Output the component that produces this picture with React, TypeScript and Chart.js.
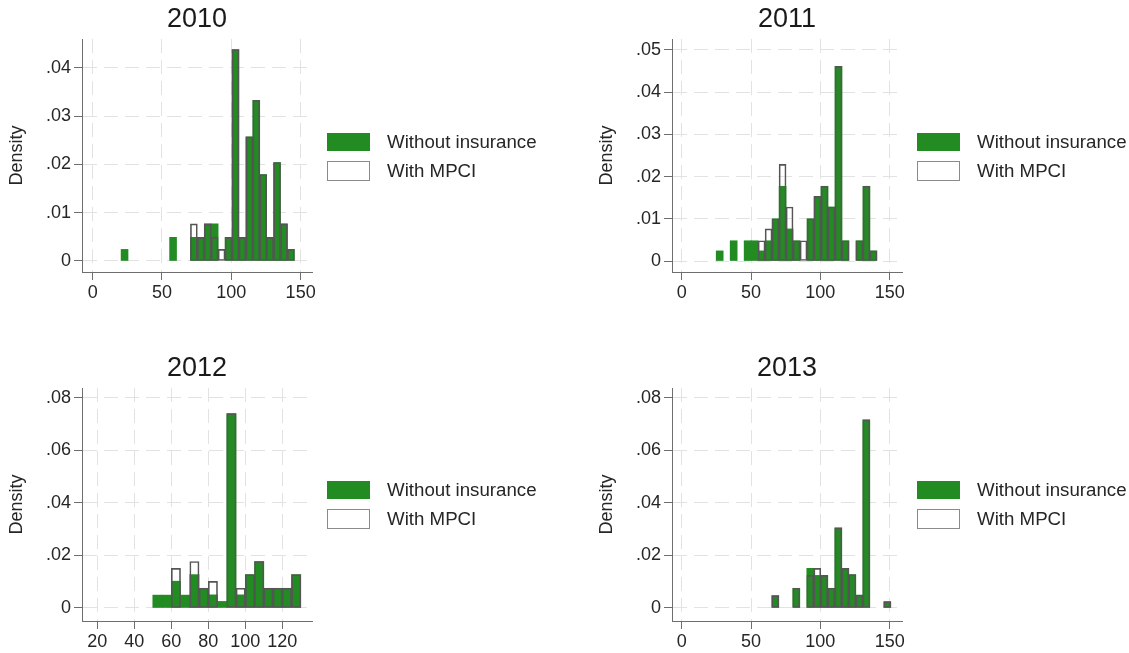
import React, { useEffect, useRef } from "react";
import { Chart, registerables } from "chart.js";

Chart.register(...registerables);

// ---------------- data ----------------
const seriesLabels = ["Without insurance", "With MPCI"];
const yAxisTitle = "Density";

// 2010 (bin width 5)
const bins2010 = [23, 28, 33, 38, 43, 48, 53, 58, 63, 68, 73, 78, 83, 88, 93, 98, 103, 108, 113, 118, 123, 128, 133, 138, 143];
const without2010 = [0.0024, 0, 0, 0, 0, 0, 0, 0.0049, 0, 0, 0.0049, 0.0049, 0.0077, 0.0077, 0, 0.0049, 0.0438, 0.0049, 0.0257, 0.0333, 0.0179, 0.0049, 0.0204, 0.0077, 0.0024];
const mpci2010 = [0, 0, 0, 0, 0, 0, 0, 0, 0, 0, 0.0077, 0.0049, 0.0077, 0.0049, 0.0024, 0.0049, 0.0438, 0.0049, 0.0257, 0.0333, 0.0179, 0.0049, 0.0204, 0.0077, 0.0024];

// 2011
const bins2011 = [27.4, 32.44, 37.48, 42.52, 47.56, 52.6, 57.64, 62.68, 67.72, 72.76, 77.8, 82.84, 87.88, 92.92, 97.96, 103.0, 108.04, 113.08, 118.12, 123.16, 128.2, 133.24, 138.28];
const without2011 = [0.0024, 0, 0.0048, 0, 0.0048, 0.0048, 0.0024, 0.0048, 0.01, 0.0177, 0.0076, 0.0048, 0, 0.01, 0.0153, 0.0177, 0.0128, 0.0461, 0.0048, 0, 0.0048, 0.0177, 0.0024];
const mpci2011 = [0, 0, 0, 0, 0, 0, 0.0048, 0.0076, 0.01, 0.0229, 0.0128, 0.0048, 0.0048, 0.01, 0.0153, 0.0177, 0.0128, 0.0461, 0.0048, 0, 0.0048, 0.0177, 0.0024];

// 2012
const bins2012 = [52.5, 57.5, 62.5, 67.5, 72.5, 77.5, 82.5, 87.5, 92.5, 97.5, 102.5, 107.5, 112.5, 117.5, 122.5, 127.5];
const without2012 = [0.0049, 0.0049, 0.0102, 0.0049, 0.0127, 0.0075, 0.005, 0.0025, 0.074, 0.005, 0.0127, 0.0177, 0.0075, 0.0075, 0.0075, 0.0127];
const mpci2012 = [0, 0, 0.0151, 0, 0.0177, 0.0075, 0.0101, 0, 0.074, 0.0075, 0.0127, 0.0177, 0.0075, 0.0075, 0.0075, 0.0127];

// 2013
const bins2013 = [67.5, 72.55, 77.6, 82.65, 87.7, 92.75, 97.8, 102.85, 107.9, 112.95, 118.0, 123.05, 128.1, 133.15, 138.2, 143.25, 148.3];
const without2013 = [0.0047, 0, 0, 0.0075, 0, 0.0151, 0.0124, 0.0124, 0.0075, 0.0305, 0.0151, 0.0127, 0.0049, 0.0716, 0, 0, 0.0024];
const mpci2013 = [0.0047, 0, 0, 0.0075, 0, 0.0124, 0.0151, 0.0124, 0.0075, 0.0305, 0.0151, 0.0127, 0.0049, 0.0716, 0, 0, 0.0024];

// tick values / labels
const xTicksWide = [0, 50, 100, 150];
const xTicks2012 = [20, 40, 60, 80, 100, 120];
const yTicksTop2010 = [0, 0.01, 0.02, 0.03, 0.04];
const yLabelsTop2010 = ["0", ".01", ".02", ".03", ".04"];
const yTicks2011 = [0, 0.01, 0.02, 0.03, 0.04, 0.05];
const yLabels2011 = ["0", ".01", ".02", ".03", ".04", ".05"];
const yTicksBottom = [0, 0.02, 0.04, 0.06, 0.08];
const yLabelsBottom = ["0", ".02", ".04", ".06", ".08"];

// ---------------- style / layout ----------------
const FONT = "'Liberation Sans', Arial, Helvetica, sans-serif";
const GREEN = "rgb(34,139,34)";
const CLEAR = "rgba(255,255,255,0)";
const OUTLINE = "#555555";
const AXIS = "#6e6e6e";
const GRID = "#e2e2e2";
const TEXT = "#262626";

const CANVAS_W = 394;
const CANVAS_H = 326;

type PanelSpec = {
  title: string;
  left: number;
  top: number;
  bins: number[];
  without: number[];
  mpci: number[];
  xMin: number;
  xMax: number;
  xTicks: number[];
  yMin: number;
  yMax: number;
  yTicks: number[];
  yLabels: string[];
};

const panels: PanelSpec[] = [
  { title: "2010", left: 0, top: 0, bins: bins2010, without: without2010, mpci: mpci2010, xMin: -7.7, xMax: 158.2, xTicks: xTicksWide, yMin: -0.00228, yMax: 0.04597, yTicks: yTicksTop2010, yLabels: yLabelsTop2010 },
  { title: "2011", left: 590, top: 0, bins: bins2011, without: without2011, mpci: mpci2011, xMin: -7.0, xMax: 158.9, xTicks: xTicksWide, yMin: -0.0026, yMax: 0.05256, yTicks: yTicks2011, yLabels: yLabels2011 },
  { title: "2012", left: 0, top: 349, bins: bins2012, without: without2012, mpci: mpci2012, xMin: 11.73, xMax: 136.06, xTicks: xTicks2012, yMin: -0.00495, yMax: 0.0837, yTicks: yTicksBottom, yLabels: yLabelsBottom },
  { title: "2013", left: 590, top: 349, bins: bins2013, without: without2013, mpci: mpci2013, xMin: -7.0, xMax: 158.9, xTicks: xTicksWide, yMin: -0.00495, yMax: 0.0837, yTicks: yTicksBottom, yLabels: yLabelsBottom },
];

const hasHeight = (ctx: any) => !!(ctx.raw && ctx.raw.y > 0);

function Panel({ spec }: { spec: PanelSpec }) {
  const ref = useRef<HTMLCanvasElement | null>(null);

  useEffect(() => {
    if (!ref.current) return;
    const withoutData = spec.bins.map((x, i) => ({ x, y: spec.without[i] }));
    const mpciData = spec.bins.map((x, i) => ({ x, y: spec.mpci[i] }));

    const chart = new Chart(ref.current, {
      type: "bar",
      data: {
        datasets: [
          {
            label: seriesLabels[1],
            data: mpciData,
            backgroundColor: CLEAR,
            borderColor: (ctx: any) => (hasHeight(ctx) ? OUTLINE : CLEAR),
            borderWidth: (ctx: any) => (hasHeight(ctx) ? 1 : 0),
            borderSkipped: false,
            grouped: false,
            barPercentage: 1,
            categoryPercentage: 1,
            order: 1,
          } as any,
          {
            label: seriesLabels[0],
            data: withoutData,
            backgroundColor: (ctx: any) => (hasHeight(ctx) ? GREEN : CLEAR),
            borderColor: CLEAR,
            borderWidth: 0,
            grouped: false,
            barPercentage: 1,
            categoryPercentage: 1,
            order: 2,
          } as any,
        ],
      },
      options: {
        responsive: false,
        animation: false,
        devicePixelRatio: 1,
        layout: { padding: 0 },
        plugins: {
          legend: { display: false },
          tooltip: { enabled: false },
          title: {
            display: true,
            text: spec.title,
            color: "#1a1a1a",
            font: { family: FONT, size: 27, weight: "normal" as any, lineHeight: 1.15 },
            padding: { top: 4, bottom: 4 },
          },
        },
        scales: {
          x: {
            type: "linear",
            min: spec.xMin,
            max: spec.xMax,
            offset: false,
            afterBuildTicks: (s: any) => {
              s.ticks = spec.xTicks.map((v) => ({ value: v }));
            },
            afterFit: (s: any) => {
              s.height = CANVAS_H - 272;
            },
            ticks: {
              autoSkip: false,
              maxRotation: 0,
              padding: 2,
              color: TEXT,
              font: { family: FONT, size: 18 },
              callback: (_v: any, i: number) => String(spec.xTicks[i]),
            },
            grid: {
              offset: false,
              color: GRID,
              lineWidth: 1,
              tickLength: 8,
              tickColor: AXIS,
              tickWidth: 1,
              tickBorderDash: [],
            } as any,
            border: { display: true, color: AXIS, width: 1, dash: [14, 7] },
          },
          y: {
            type: "linear",
            position: "left",
            min: spec.yMin,
            max: spec.yMax,
            afterBuildTicks: (s: any) => {
              s.ticks = spec.yTicks.map((v) => ({ value: v }));
            },
            afterFit: (s: any) => {
              s.width = 82;
            },
            ticks: {
              autoSkip: false,
              padding: 3,
              color: TEXT,
              font: { family: FONT, size: 18 },
              callback: (_v: any, i: number) => spec.yLabels[i],
            },
            grid: {
              color: GRID,
              lineWidth: 1,
              tickLength: 8,
              tickColor: AXIS,
              tickWidth: 1,
              tickBorderDash: [],
            } as any,
            border: { display: true, color: AXIS, width: 1, dash: [14, 7] },
            title: {
              display: true,
              text: yAxisTitle,
              color: TEXT,
              font: { family: FONT, size: 18, lineHeight: 1.2 },
              padding: { top: 6, bottom: 0 },
            },
          },
          // invisible spacer on the right so the title centres over the plot
          spacer: {
            type: "linear",
            position: "right",
            display: true,
            min: 0,
            max: 1,
            ticks: { display: false },
            grid: { display: false, drawTicks: false },
            border: { display: false },
            afterFit: (s: any) => {
              s.width = 82;
            },
          },
        },
      } as any,
    });

    return () => chart.destroy();
  }, [spec]);

  return (
    <canvas
      ref={ref}
      width={CANVAS_W}
      height={CANVAS_H}
      style={{ position: "absolute", left: spec.left, top: spec.top, width: CANVAS_W, height: CANVAS_H }}
    />
  );
}

function Legend({ left, top }: { left: number; top: number }) {
  const textStyle: React.CSSProperties = {
    position: "absolute",
    left: 60,
    fontFamily: FONT,
    fontSize: 18.7,
    lineHeight: "22px",
    whiteSpace: "nowrap",
    color: TEXT,
  };
  return (
    <div style={{ position: "absolute", left, top, width: 240, height: 50 }}>
      <div
        style={{
          position: "absolute",
          left: 0,
          top: 0,
          width: 43,
          height: 18,
          background: GREEN,
          boxSizing: "border-box",
          border: `1px solid ${GREEN}`,
        }}
      />
      <div style={{ ...textStyle, top: -2 }}>{seriesLabels[0]}</div>
      <div
        style={{
          position: "absolute",
          left: 0,
          top: 28,
          width: 43,
          height: 20,
          background: "#ffffff",
          boxSizing: "border-box",
          border: "1px solid #8a8a8a",
        }}
      />
      <div style={{ ...textStyle, top: 27 }}>{seriesLabels[1]}</div>
    </div>
  );
}

export default function App() {
  return (
    <div
      style={{
        position: "absolute",
        left: 0,
        top: 0,
        width: 1129,
        height: 653,
        background: "#ffffff",
        overflow: "hidden",
      }}
    >
      {panels.map((p) => (
        <Panel key={p.title} spec={p} />
      ))}
      <Legend left={327} top={133} />
      <Legend left={917} top={133} />
      <Legend left={327} top={481} />
      <Legend left={917} top={481} />
    </div>
  );
}
